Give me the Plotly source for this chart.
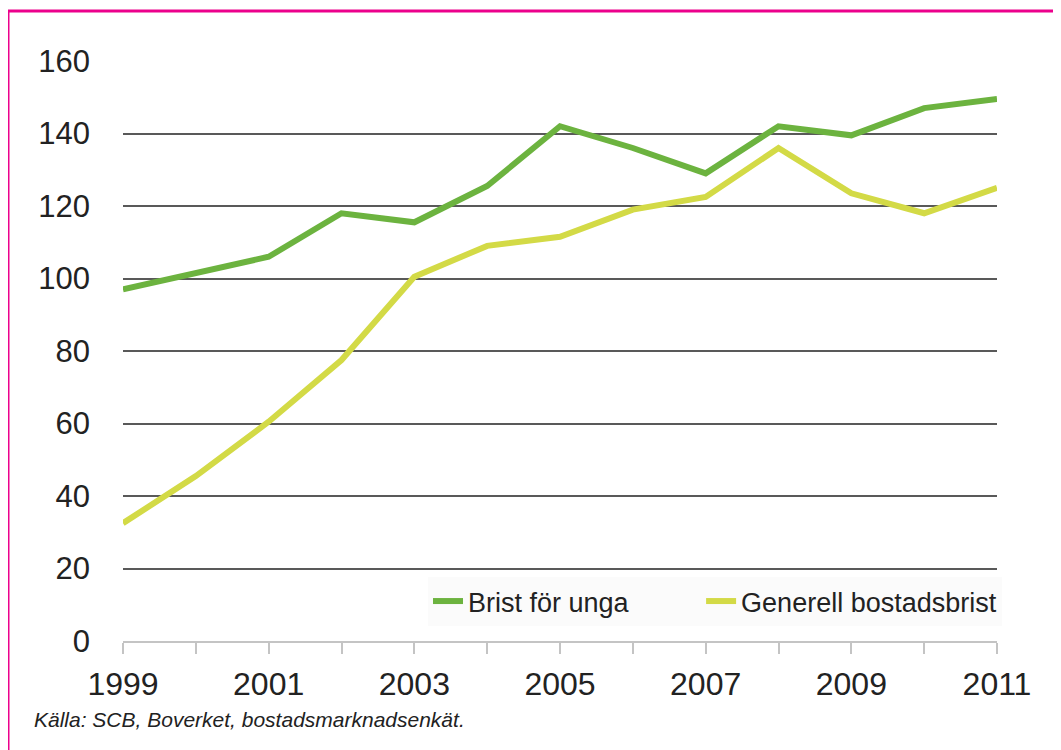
import plotly.graph_objects as go

years = list(range(1999, 2012))
brist_unga = [97, 101.5, 106, 118, 115.5, 125.5, 142, 136, 129, 142, 139.5, 147, 149.5]
generell = [32.5, 45.5, 60.5, 77.5, 100.5, 109, 111.5, 119, 122.5, 136, 123.5, 118, 125]
x_labels = [1999, 2001, 2003, 2005, 2007, 2009, 2011]
y_ticks = [0, 20, 40, 60, 80, 100, 120, 140, 160]

GREEN = "#6cb33f"
YELLOW = "#d3da46"
TEXT = "#222222"

# page is offset by the 8px body margin, so figure is 8px smaller
W, H = 1053, 742
L, T = 115, 53
PW, PH = 874, 580


def px_x(px):
    # page pixel -> paper x
    return (px - 123) / PW


def px_y(py):
    # page pixel -> paper y
    return (641 - py) / PH


fig = go.Figure()

fig.add_trace(
    go.Scatter(
        x=years,
        y=brist_unga,
        mode="lines",
        # trailing nbsp to widen the gap to the next legend entry
        name="Brist för unga" + "\u00a0" * 9,
        line=dict(color=GREEN, width=6),
        hovertemplate="Brist för unga: %{y}<extra></extra>",
    )
)

fig.add_trace(
    go.Scatter(
        x=years,
        y=generell,
        mode="lines",
        name="Generell bostadsbrist",
        line=dict(color=YELLOW, width=6),
    )
)

# pink frame (only top and left edges in view)
fig.add_shape(
    type="rect",
    xref="paper",
    yref="paper",
    x0=px_x(8),
    x1=px_x(1090),
    y0=px_y(790),
    y1=px_y(11),
    line=dict(color="#ec008c", width=3),
    fillcolor="rgba(0,0,0,0)",
)

fig.add_annotation(
    text="<i>Källa: SCB, Boverket, bostadsmarknadsenkät.</i>",
    xref="paper",
    yref="paper",
    x=px_x(32),
    y=px_y(720),
    xanchor="left",
    yanchor="middle",
    showarrow=False,
    font=dict(size=21, color=TEXT, family="Liberation Sans"),
)

fig.update_layout(
    width=W,
    height=H,
    margin=dict(l=L, r=W - L - PW, t=T, b=H - T - PH),
    paper_bgcolor="white",
    plot_bgcolor="white",
    font=dict(family="Liberation Sans, Arial, sans-serif", color=TEXT),
    showlegend=True,
    legend=dict(
        orientation="h",
        x=px_x(428),
        xanchor="left",
        y=px_y(577),
        yanchor="top",
        bgcolor="#fbfbfb",
        font=dict(size=27, color=TEXT),
    ),
    xaxis=dict(
        range=[1999, 2011],
        tickvals=x_labels,
        showgrid=False,
        showline=True,
        linecolor="#c4c4c4",
        linewidth=2,
        ticks="outside",
        ticklen=11,
        tickwidth=2,
        tickcolor="#c4c4c4",
        minor=dict(dtick=1, tick0=1999, ticks="outside", ticklen=11,
                   tickwidth=2, tickcolor="#c4c4c4", showgrid=False),
        tickfont=dict(size=32, color=TEXT),
        ticklabelstandoff=3,
        zeroline=False,
        layer="above traces",
    ),
    yaxis=dict(
        range=[0, 160],
        tickvals=y_ticks,
        showgrid=True,
        gridcolor="#595959",
        gridwidth=2,
        zeroline=False,
        showline=False,
        tickfont=dict(size=31, color=TEXT),
        ticklabelstandoff=32,
    ),
)

fig.write_html("out.html")
